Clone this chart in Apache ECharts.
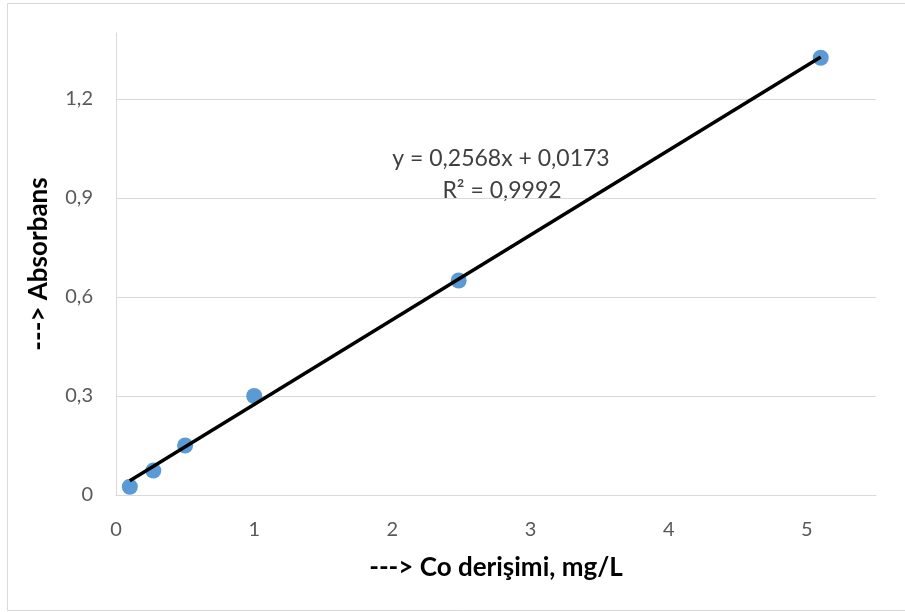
<!DOCTYPE html>
<html>
<head>
<meta charset="utf-8">
<script src="https://cdn.jsdelivr.net/npm/echarts@6/dist/echarts.min.js"></script>
<style>html,body{margin:0;padding:0;background:#fff}#c{width:905px;height:612px}</style>
</head>
<body>
<div id="c"></div>
<script>
const xValues = [0.1, 0.27, 0.5, 1.0, 2.48, 5.1];
const yValues = [0.025, 0.074, 0.15, 0.30, 0.65, 1.325];
const trendX = [0.1, 5.1];
const trendY = [0.043, 1.327];
const xTicks = ['0', '1', '2', '3', '4', '5'];
const yTicks = ['0', '0,3', '0,6', '0,9', '1,2'];
const equationText = 'y = 0,2568x + 0,0173';
const r2Text = 'R² = 0,9992';
const xTitle = '---> Co derişimi, mg/L';
const yTitle = '---> Absorbans';

const pts = xValues.map((x, i) => [x, yValues[i]]);
const trend = trendX.map((x, i) => [x, trendY[i]]);
const font = 'Lato, "Open Sans", sans-serif';

const chart = echarts.init(document.getElementById('c'));
chart.setOption({
  animation: false,
  grid: {left: 116, right: 29, top: 33, bottom: 117},
  xAxis: {
    type: 'value', min: 0, max: 5.5, interval: 1,
    axisLine: {show: true, lineStyle: {color: '#d9d9d9', width: 1}},
    axisTick: {show: false},
    splitLine: {show: false},
    axisLabel: {color: '#595959', fontSize: 20, fontFamily: font, margin: 25, showMaxLabel: false,
      formatter: v => xTicks[Math.round(v)] !== undefined && Math.abs(v - Math.round(v)) < 1e-6 ? xTicks[Math.round(v)] : ''},
    name: xTitle, nameLocation: 'middle', nameGap: 60,
    nameTextStyle: {color: '#000', fontSize: 26, fontWeight: 'bold', fontFamily: font}
  },
  yAxis: {
    type: 'value', min: 0, max: 1.4, interval: 0.3,
    axisLine: {show: true, lineStyle: {color: '#d9d9d9', width: 1}},
    axisTick: {show: false},
    splitLine: {show: true, showMinLine: false, showMaxLine: false, lineStyle: {color: '#d9d9d9', width: 1}},
    axisLabel: {color: '#595959', fontSize: 20, fontFamily: font, margin: 23, showMaxLabel: false,
      formatter: v => { const i = Math.round(v / 0.3); return Math.abs(v - i * 0.3) < 1e-6 && yTicks[i] !== undefined ? yTicks[i] : ''; }},
    name: yTitle, nameLocation: 'middle', nameGap: 64, nameRotate: 90,
    nameTextStyle: {color: '#000', fontSize: 26, fontWeight: 'bold', fontFamily: font}
  },
  series: [
    {type: 'scatter', data: pts, symbolSize: 16, itemStyle: {color: '#5b9bd5', opacity: 1}, z: 2},
    {type: 'line', data: trend, showSymbol: false, symbol: 'none', lineStyle: {color: '#000', width: 3.5}, z: 3}
  ],
  graphic: [
    {type: 'rect', shape: {x: 7.5, y: 3.5, width: 910, height: 607}, style: {fill: 'none', stroke: '#d9d9d9', lineWidth: 1}, silent: true},
    {type: 'text', x: 501, y: 159, style: {text: equationText, align: 'center', verticalAlign: 'middle', fill: '#404040', fontSize: 23, fontFamily: font}},
    {type: 'text', x: 502, y: 191, style: {text: r2Text, align: 'center', verticalAlign: 'middle', fill: '#404040', fontSize: 23, fontFamily: font}}
  ]
});
</script>
</body>
</html>
